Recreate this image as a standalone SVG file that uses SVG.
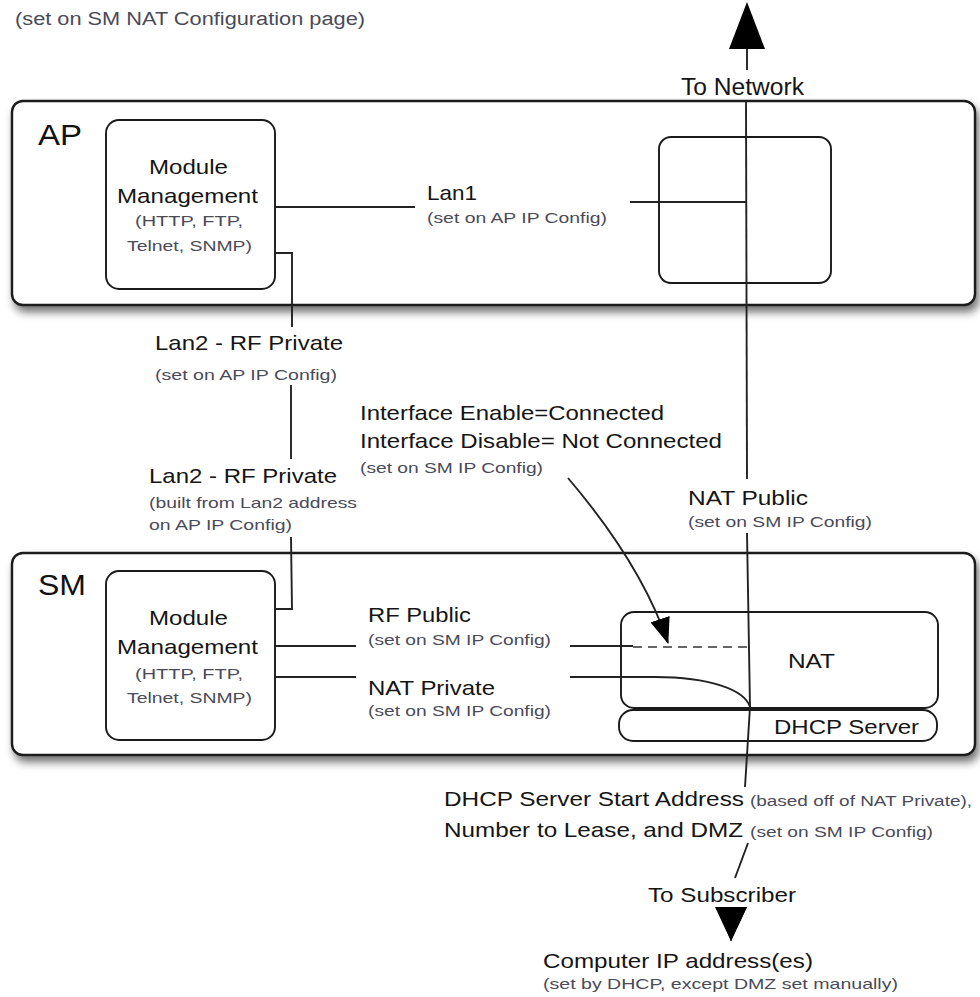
<svg xmlns="http://www.w3.org/2000/svg" width="980" height="997" viewBox="0 0 980 997">
<style>
  text { font-family: "Liberation Sans", Arial, Helvetica, sans-serif; }
  .main { font-size: 21px; fill: #151515; }
  .big { font-size: 30px; fill: #111; }
  .small { font-size: 15px; fill: #4a4a58; }
  .outer { fill: #fff; stroke: #1a1a1a; stroke-width: 2.4; }
  .inner { fill: #fff; stroke: #1a1a1a; stroke-width: 1.9; }
  .wire { fill: none; stroke: #222; stroke-width: 1.9; }
  .dash { fill: none; stroke: #666; stroke-width: 2.2; stroke-dasharray: 9 6; }
</style>
<defs>
  <filter id="shadow" x="-5%" y="-10%" width="112%" height="135%">
    <feDropShadow dx="3" dy="6" stdDeviation="4.5" flood-color="#000" flood-opacity="0.55"/>
  </filter>
  <marker id="arrowSmall" viewBox="0 0 26 20" refX="25" refY="10" markerWidth="26" markerHeight="20" markerUnits="userSpaceOnUse" orient="auto">
    <path d="M0,0 L26,10 L0,20 z" fill="#000"/>
  </marker>
  <marker id="arrowBig" viewBox="0 0 34 32" refX="34" refY="16" markerWidth="34" markerHeight="32" markerUnits="userSpaceOnUse" orient="auto">
    <path d="M0,0 L34,16 L0,32 z" fill="#000"/>
  </marker>
</defs>
<rect width="980" height="997" fill="#fff"/>

<text class="small" x="15" y="25" style="font-size:18px" textLength="350" lengthAdjust="spacingAndGlyphs">(set on SM NAT Configuration page)</text>

<g id="ap">
  <rect class="outer" x="12" y="101" width="963" height="204" rx="11" filter="url(#shadow)"/>
  <text class="big" x="38" y="145" textLength="44" lengthAdjust="spacingAndGlyphs">AP</text>
</g>
<g id="ap-module">
  <rect class="inner" x="106" y="120" width="169" height="169" rx="13"/>
  <text class="main" x="149" y="174" textLength="79" lengthAdjust="spacingAndGlyphs">Module</text>
  <text class="main" x="117" y="203" textLength="141" lengthAdjust="spacingAndGlyphs">Management</text>
  <text class="small" x="135" y="226" textLength="108" lengthAdjust="spacingAndGlyphs">(HTTP, FTP,</text>
  <text class="small" x="127" y="251" textLength="125" lengthAdjust="spacingAndGlyphs">Telnet, SNMP)</text>
</g>
<g id="ap-switch">
  <rect class="inner" x="659" y="137" width="172" height="146" rx="12"/>
</g>

<g id="sm">
  <rect class="outer" x="12" y="553" width="963" height="202" rx="11" filter="url(#shadow)"/>
  <text class="big" x="38" y="595" textLength="48" lengthAdjust="spacingAndGlyphs">SM</text>
</g>
<g id="sm-module">
  <rect class="inner" x="106" y="571" width="169" height="169" rx="13"/>
  <text class="main" x="149" y="625" textLength="79" lengthAdjust="spacingAndGlyphs">Module</text>
  <text class="main" x="117" y="654" textLength="141" lengthAdjust="spacingAndGlyphs">Management</text>
  <text class="small" x="135" y="679" textLength="108" lengthAdjust="spacingAndGlyphs">(HTTP, FTP,</text>
  <text class="small" x="127" y="703" textLength="125" lengthAdjust="spacingAndGlyphs">Telnet, SNMP)</text>
</g>
<g id="nat">
  <rect class="inner" x="621" y="612" width="317" height="96" rx="13"/>
  <text class="main" x="788" y="668" textLength="47" lengthAdjust="spacingAndGlyphs">NAT</text>
</g>
<g id="dhcp">
  <rect class="inner" x="619" y="710" width="318" height="31" rx="14"/>
  <text class="main" x="774" y="734" textLength="145" lengthAdjust="spacingAndGlyphs">DHCP Server</text>
</g>

<g id="connectors">
  <!-- To Network vertical -->
  <path class="wire" d="M747,70 L747,40"/>
  <polygon points="747,2 729,49 765,49" fill="#000"/>
  <path class="wire" d="M746,101 L747,479"/>
  <path class="wire" d="M747,533 L750,707 L745,787"/>
  <!-- Lan1 -->
  <path class="wire" d="M275,207 L415,207"/>
  <path class="wire" d="M630,202 L746,202"/>
  <!-- Lan2 -->
  <path class="wire" d="M275,253 L292,253 L292,327"/>
  <path class="wire" d="M291,385 L291,459"/>
  <path class="wire" d="M291,537 L292,609 L275,609"/>
  <!-- RF Public -->
  <path class="wire" d="M275,646 L356,646"/>
  <path class="wire" d="M570,646 L633,646"/>
  <path class="dash" d="M633,647 L750,647"/>
  <!-- NAT Private -->
  <path class="wire" d="M275,677 L356,677"/>
  <path class="wire" d="M570,677 L655,677 C710,677 745,690 750,707"/>
  <!-- Interface pointer -->
  <path class="wire" d="M568,478 Q642,565 668,643" marker-end="url(#arrowSmall)"/>
  <!-- To Subscriber -->
  <path class="wire" d="M748,843 L735,878"/>
  <path d="M731,908 L731,941" fill="none" stroke="#000" stroke-width="1" marker-end="url(#arrowBig)"/>
  <polygon points="716,907 747,907 731,941" fill="#000"/>
</g>

<g id="labels">
  <text class="main" x="681" y="95" style="font-size:23px" textLength="123" lengthAdjust="spacingAndGlyphs">To Network</text>
  <text class="main" x="427" y="200" textLength="50" lengthAdjust="spacingAndGlyphs">Lan1</text>
  <text class="small" x="427" y="223" textLength="180" lengthAdjust="spacingAndGlyphs">(set on AP IP Config)</text>
  <text class="main" x="155" y="350" textLength="188" lengthAdjust="spacingAndGlyphs">Lan2 - RF Private</text>
  <text class="small" x="155" y="380" textLength="182" lengthAdjust="spacingAndGlyphs">(set on AP IP Config)</text>
  <text class="main" x="360" y="420" textLength="304" lengthAdjust="spacingAndGlyphs">Interface Enable=Connected</text>
  <text class="main" x="360" y="448" textLength="362" lengthAdjust="spacingAndGlyphs">Interface Disable= Not Connected</text>
  <text class="small" x="360" y="473" textLength="183" lengthAdjust="spacingAndGlyphs">(set on SM IP Config)</text>
  <text class="main" x="149" y="483" textLength="188" lengthAdjust="spacingAndGlyphs">Lan2 - RF Private</text>
  <text class="small" x="149" y="508" textLength="208" lengthAdjust="spacingAndGlyphs">(built from Lan2 address</text>
  <text class="small" x="149" y="530" textLength="143" lengthAdjust="spacingAndGlyphs">on AP IP Config)</text>
  <text class="main" x="688" y="505" textLength="120" lengthAdjust="spacingAndGlyphs">NAT Public</text>
  <text class="small" x="688" y="527" textLength="184" lengthAdjust="spacingAndGlyphs">(set on SM IP Config)</text>
  <text class="main" x="368" y="622" textLength="103" lengthAdjust="spacingAndGlyphs">RF Public</text>
  <text class="small" x="368" y="645" textLength="183" lengthAdjust="spacingAndGlyphs">(set on SM IP Config)</text>
  <text class="main" x="368" y="695" textLength="127" lengthAdjust="spacingAndGlyphs">NAT Private</text>
  <text class="small" x="368" y="716" textLength="183" lengthAdjust="spacingAndGlyphs">(set on SM IP Config)</text>
  <text class="main" x="444" y="806" textLength="300" lengthAdjust="spacingAndGlyphs">DHCP Server Start Address</text>
  <text class="small" x="750" y="806" style="font-size:14px" textLength="222" lengthAdjust="spacingAndGlyphs">(based off of NAT Private),</text>
  <text class="main" x="444" y="837" textLength="299" lengthAdjust="spacingAndGlyphs">Number to Lease, and DMZ</text>
  <text class="small" x="750" y="837" style="font-size:14px" textLength="183" lengthAdjust="spacingAndGlyphs">(set on SM IP Config)</text>
  <text class="main" x="648" y="902" textLength="148" lengthAdjust="spacingAndGlyphs">To Subscriber</text>
  <text class="main" x="543" y="968" textLength="270" lengthAdjust="spacingAndGlyphs">Computer IP address(es)</text>
  <text class="small" x="543" y="989" textLength="355" lengthAdjust="spacingAndGlyphs">(set by DHCP, except DMZ set manually)</text>
</g>
</svg>
